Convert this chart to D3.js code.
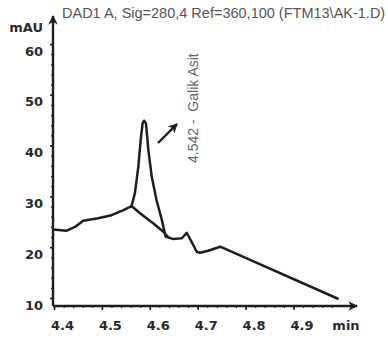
<!DOCTYPE html>
<html>
<head>
<meta charset="utf-8">
<script src="https://cdn.jsdelivr.net/npm/d3@7"></script>
<style>
  body { margin: 0; background: #fff; }
  svg { display: block; }
</style>
</head>
<body>
<div id="chart"></div>
<script>
// chromatogram signal (retention time in min, absorbance in mAU)
const signalTime = [4.398, 4.4265, 4.444, 4.461, 4.492, 4.520, 4.545, 4.562, 4.569, 4.576, 4.581, 4.585, 4.588, 4.592, 4.597, 4.604, 4.614, 4.625, 4.633, 4.649, 4.667, 4.677, 4.687, 4.698, 4.705, 4.722, 4.747, 4.994];
const signalValue = [23.5, 23.25, 24.0, 25.2, 25.7, 26.3, 27.3, 28.1, 30.7, 35.8, 41.1, 44.4, 44.9, 44.4, 39.1, 33.9, 29.3, 25.4, 22.1, 21.6, 21.75, 22.85, 21.1, 19.1, 18.9, 19.3, 20.1, 9.8];
// integration baseline under the main peak
const baseTime = [4.562, 4.5795, 4.607, 4.6276, 4.638];
const baseValue = [28.1, 26.7, 24.7, 23.1, 22.0];

const xTicks = [4.4, 4.5, 4.6, 4.7, 4.8, 4.9];
const yTicks = [10, 20, 30, 40, 50, 60];
const title = "DAD1 A, Sig=280,4 Ref=360,100 (FTM13\\AK-1.D)";
const peakLabel = "4.542 -  Galik Asit";

const width = 388;
const height = 343;
const ink = "#1e1e1e";

const svg = d3.select("#chart")
  .append("svg")
    .attr("width", width)
    .attr("height", height);

svg.append("defs").append("marker")
    .attr("id", "head")
    .attr("viewBox", "0 0 10 10")
    .attr("refX", 9)
    .attr("refY", 5)
    .attr("markerWidth", 4)
    .attr("markerHeight", 4)
    .attr("markerUnits", "strokeWidth")
    .attr("orient", "auto")
  .append("path")
    .attr("d", "M0,0L10,5L0,10L3,5Z")
    .attr("fill", ink);

const x = d3.scaleLinear().domain([4.4, 5.0]).range([54, 341.4]);
const y = d3.scaleLinear().domain([10, 60]).range([298, 44]);

const axisX = 53;
const axisY = 306;

// title
svg.append("text")
  .attr("x", 62)
  .attr("y", 18)
  .attr("font-family", "Liberation Sans, Arial, sans-serif")
  .attr("font-size", 14.5)
  .attr("fill", "#555")
  .text(title);

// x axis: minor then major ticks
const minorX = d3.range(4.4, 4.99, 0.02);
svg.append("g")
  .attr("transform", `translate(0,${axisY})`)
  .call(d3.axisBottom(x).tickValues(minorX).tickSize(2).tickFormat(""))
  .call(g => g.select(".domain").remove())
  .call(g => g.selectAll("line").attr("stroke", ink).attr("stroke-width", 1.2));

const gx = svg.append("g")
  .attr("transform", `translate(0,${axisY})`)
  .call(d3.axisBottom(x).tickValues(xTicks).tickSize(4).tickFormat(d3.format(".1f")));
gx.select(".domain").remove();
gx.selectAll("line").attr("stroke", ink).attr("stroke-width", 1.6);
gx.selectAll("text")
  .attr("dx", 8)
  .attr("y", 24)
  .attr("dy", 0)
  .attr("font-family", "DejaVu Sans, sans-serif")
  .attr("font-weight", "bold")
  .attr("font-size", 13)
  .attr("fill", "#2a2a2a");

// y axis: minor then major ticks
const minorY = d3.range(10, 61, 2);
svg.append("g")
  .attr("transform", `translate(${axisX},0)`)
  .call(d3.axisLeft(y).tickValues(minorY).tickSize(2).tickFormat(""))
  .call(g => g.select(".domain").remove())
  .call(g => g.selectAll("line").attr("stroke", ink).attr("stroke-width", 1.2));

const gy = svg.append("g")
  .attr("transform", `translate(${axisX},0)`)
  .call(d3.axisLeft(y).tickValues(yTicks).tickSize(3).tickFormat(d3.format("d")));
gy.select(".domain").remove();
gy.selectAll("line").attr("stroke", ink).attr("stroke-width", 1.6);
gy.selectAll("text")
  .attr("x", -10)
  .attr("dy", 11)
  .attr("font-family", "DejaVu Sans, sans-serif")
  .attr("font-weight", "bold")
  .attr("font-size", 13)
  .attr("fill", "#2a2a2a");

// axis lines with arrow heads
svg.append("line")
  .attr("x1", axisX).attr("y1", axisY)
  .attr("x2", 357).attr("y2", axisY)
  .attr("stroke", ink).attr("stroke-width", 2.4)
  .attr("marker-end", "url(#head)");
svg.append("line")
  .attr("x1", axisX).attr("y1", axisY)
  .attr("x2", axisX).attr("y2", 16)
  .attr("stroke", ink).attr("stroke-width", 2.4)
  .attr("marker-end", "url(#head)");

// axis titles
svg.append("text")
  .attr("x", 43).attr("y", 32)
  .attr("text-anchor", "end")
  .attr("font-family", "DejaVu Sans, sans-serif")
  .attr("font-weight", "bold")
  .attr("font-size", 13)
  .attr("fill", "#2a2a2a")
  .text("mAU");
svg.append("text")
  .attr("x", 346).attr("y", 330)
  .attr("text-anchor", "middle")
  .attr("font-family", "DejaVu Sans, sans-serif")
  .attr("font-weight", "bold")
  .attr("font-size", 13)
  .attr("fill", "#2a2a2a")
  .text("min");

// traces
const line = d3.line()
  .x(d => x(d[0]))
  .y(d => y(d[1]));

svg.append("path")
  .datum(d3.zip(signalTime, signalValue))
  .attr("d", line)
  .attr("fill", "none")
  .attr("stroke", ink)
  .attr("stroke-width", 2.5)
  .attr("stroke-linejoin", "round");

svg.append("path")
  .datum(d3.zip(baseTime, baseValue))
  .attr("d", line)
  .attr("fill", "none")
  .attr("stroke", ink)
  .attr("stroke-width", 2.5)
  .attr("stroke-linecap", "round");

// peak annotation
svg.append("line")
  .attr("x1", 158).attr("y1", 143)
  .attr("x2", 177).attr("y2", 124)
  .attr("stroke", ink).attr("stroke-width", 2.4)
  .attr("marker-end", "url(#head)");

svg.append("text")
  .attr("transform", "translate(198,163) rotate(-90)")
  .attr("font-family", "Liberation Sans, Arial, sans-serif")
  .attr("font-size", 14)
  .attr("fill", "#666")
  .style("white-space", "pre")
  .text(peakLabel);
</script>
</body>
</html>
